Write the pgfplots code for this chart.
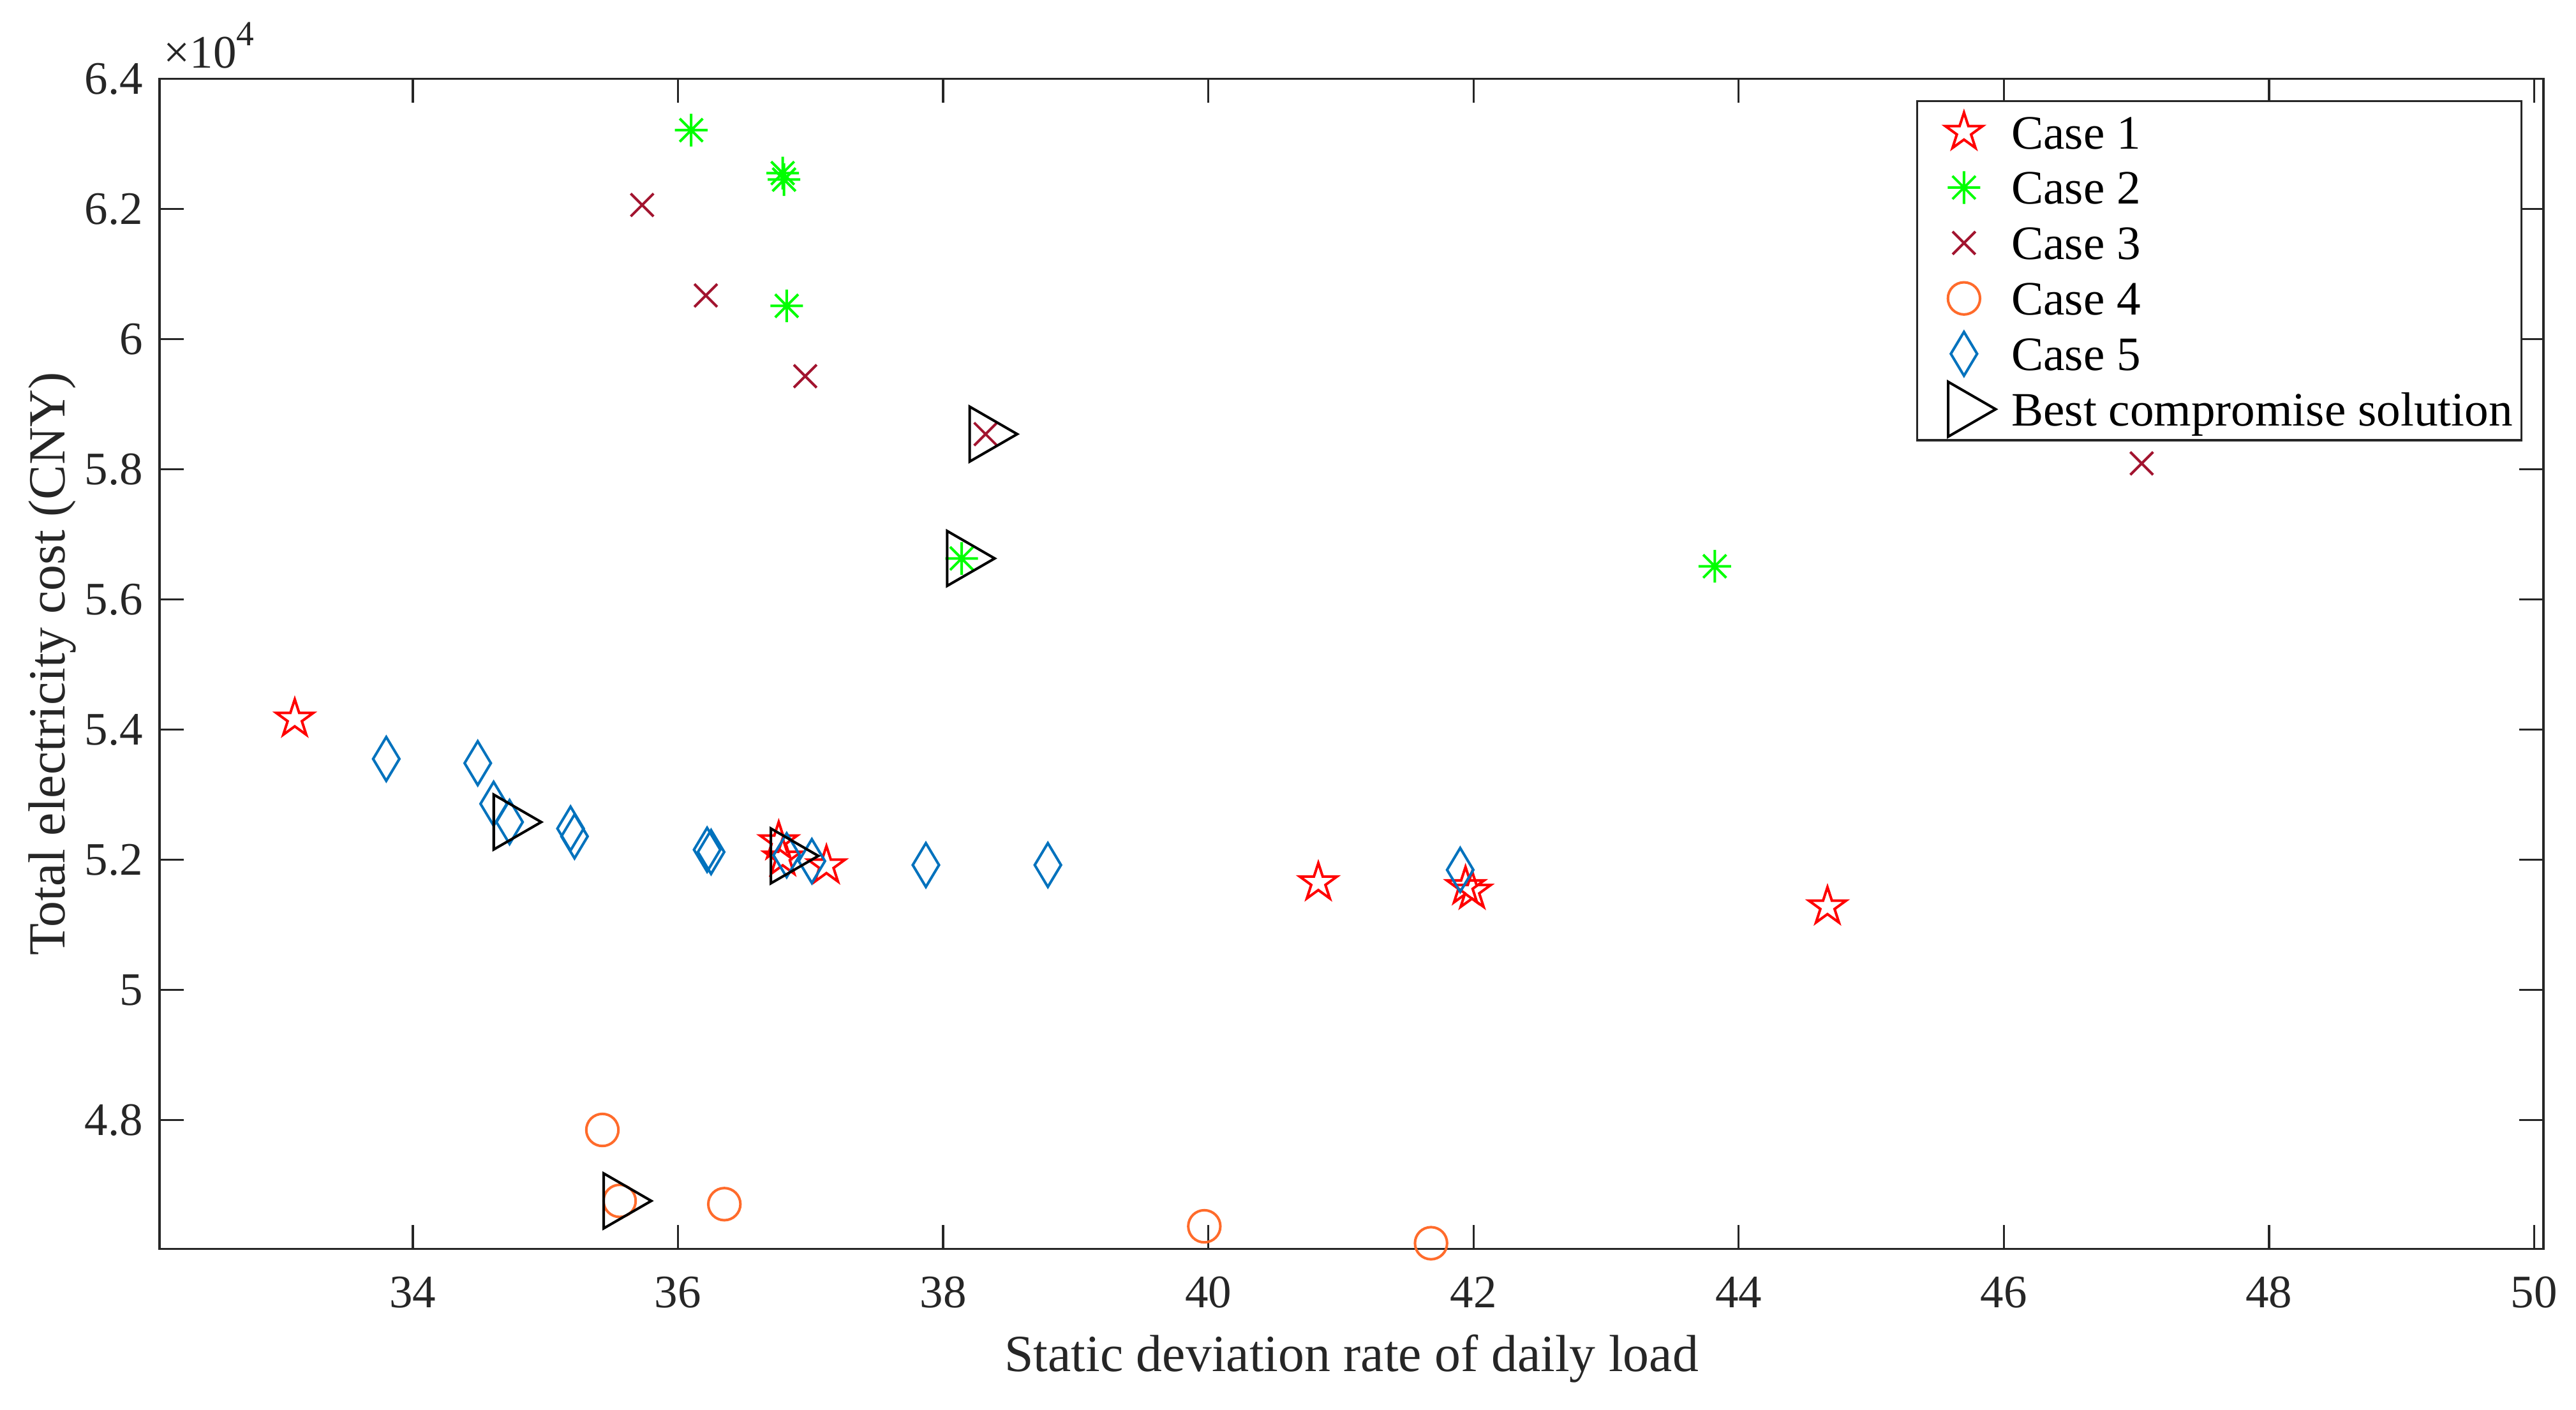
\documentclass[border=0pt]{standalone}
\usepackage{fontspec}
\setmainfont{Liberation Serif}
\usepackage{pgfplots}
\pgfplotsset{compat=1.18}

\definecolor{cA}{rgb}{1,0,0}
\definecolor{cB}{rgb}{0,1,0}
\definecolor{cC}{rgb}{0.635,0.078,0.184}
\definecolor{cD}{RGB}{255,107,43}
\definecolor{cE}{rgb}{0,0.447,0.741}
\definecolor{axc}{gray}{0.15}

\pgfdeclareplotmark{mpent}{%
  \pgfpathmoveto{\pgfpointpolar{90}{\pgfplotmarksize}}%
  \pgfpathlineto{\pgfpointpolar{126}{0.382\pgfplotmarksize}}%
  \pgfpathlineto{\pgfpointpolar{162}{\pgfplotmarksize}}%
  \pgfpathlineto{\pgfpointpolar{198}{0.382\pgfplotmarksize}}%
  \pgfpathlineto{\pgfpointpolar{234}{\pgfplotmarksize}}%
  \pgfpathlineto{\pgfpointpolar{270}{0.382\pgfplotmarksize}}%
  \pgfpathlineto{\pgfpointpolar{306}{\pgfplotmarksize}}%
  \pgfpathlineto{\pgfpointpolar{342}{0.382\pgfplotmarksize}}%
  \pgfpathlineto{\pgfpointpolar{18}{\pgfplotmarksize}}%
  \pgfpathlineto{\pgfpointpolar{54}{0.382\pgfplotmarksize}}%
  \pgfpathclose\pgfusepathqstroke}
\pgfdeclareplotmark{mast}{%
  \pgfpathmoveto{\pgfqpoint{-\pgfplotmarksize}{0pt}}\pgfpathlineto{\pgfqpoint{\pgfplotmarksize}{0pt}}%
  \pgfpathmoveto{\pgfqpoint{0pt}{-\pgfplotmarksize}}\pgfpathlineto{\pgfqpoint{0pt}{\pgfplotmarksize}}%
  \pgfpathmoveto{\pgfpointpolar{45}{\pgfplotmarksize}}\pgfpathlineto{\pgfpointpolar{225}{\pgfplotmarksize}}%
  \pgfpathmoveto{\pgfpointpolar{135}{\pgfplotmarksize}}\pgfpathlineto{\pgfpointpolar{315}{\pgfplotmarksize}}%
  \pgfusepathqstroke}
\pgfdeclareplotmark{mx}{%
  \pgfpathmoveto{\pgfqpoint{-\pgfplotmarksize}{-\pgfplotmarksize}}\pgfpathlineto{\pgfqpoint{\pgfplotmarksize}{\pgfplotmarksize}}%
  \pgfpathmoveto{\pgfqpoint{-\pgfplotmarksize}{\pgfplotmarksize}}\pgfpathlineto{\pgfqpoint{\pgfplotmarksize}{-\pgfplotmarksize}}%
  \pgfusepathqstroke}
\pgfdeclareplotmark{mdia}{%
  \pgfpathmoveto{\pgfqpoint{0pt}{\pgfplotmarksize}}%
  \pgfpathlineto{\pgfqpoint{0.6\pgfplotmarksize}{0pt}}%
  \pgfpathlineto{\pgfqpoint{0pt}{-\pgfplotmarksize}}%
  \pgfpathlineto{\pgfqpoint{-0.6\pgfplotmarksize}{0pt}}%
  \pgfpathclose\pgfusepathqstroke}
\pgfdeclareplotmark{mtri}{%
  \pgfpathmoveto{\pgfpointpolar{0}{\pgfplotmarksize}}%
  \pgfpathlineto{\pgfpointpolar{120}{\pgfplotmarksize}}%
  \pgfpathlineto{\pgfpointpolar{240}{\pgfplotmarksize}}%
  \pgfpathclose\pgfusepathqstroke}

\pgfplotsset{lgimg/.style={legend image code/.code={%
  \pgfpathrectangle{\pgfqpoint{-8.2pt}{-5.95pt}}{\pgfqpoint{13.2pt}{11.9pt}}%
  \pgfusepath{use as bounding box}%
  \draw[##1] plot coordinates {(0pt,0pt)};}}}

\begin{document}
\begin{tikzpicture}
\begin{axis}[name=ax,
  width=511.8pt, height=251.3pt, scale only axis,
  xmin=32.09, xmax=50.07, ymin=46020, ymax=64000,
  xtick={34,36,...,50},
  ytick={48000,50000,52000,54000,56000,58000,60000,62000,64000},
  yticklabels={4.8,5,5.2,5.4,5.6,5.8,6,6.2,6.4},
  scaled y ticks=false,
  clip=false,
  tick align=inside, major tick length=5.2pt,
  axis line style={axc, line width=0.45pt},
  every tick/.style={axc, line width=0.45pt},
  tick label style={font=\fontsize{10}{12}\selectfont, text=axc},
  xticklabel style={yshift=-2.4pt},
  /pgf/number format/assume math mode=true,
  xlabel={Static deviation rate of daily load},
  ylabel={Total electricity cost (CNY)},
  label style={font=\fontsize{11.2}{13}\selectfont, text=axc},
  xlabel style={at={(axis description cs:0.5,-0.1047)}, anchor=base},
  ylabel style={at={(axis description cs:-0.03976,0.5)}, anchor=base},
  legend cell align=left,
  legend style={at={(axis description cs:0.9912,0.9817)}, anchor=north east,
    draw=axc, line width=0.45pt, inner xsep=1.9pt, inner ysep=0.7pt,
    /tikz/column sep=5.2pt, /tikz/row sep=0pt,
    font=\fontsize{10.3}{12}\selectfont,
    nodes={inner sep=0pt, text height=9.5pt, text depth=2.4pt}},
]
\addplot[only marks, mark=mpent, mark size=4.2pt, color=cA, line width=0.55pt, lgimg] coordinates {
(33.11,54165) (36.76,52280) (36.79,52030) (37.12,51910)
(40.83,51650) (41.94,51590) (41.99,51520) (44.67,51280)};
\addlegendentry{Case 1}
\addplot[only marks, mark=mast, mark size=3.5pt, color=cB, line width=0.55pt, lgimg] coordinates {
(36.10,63210) (36.79,62550) (36.80,62450) (36.82,60510) (38.14,56630) (43.82,56510)};
\addlegendentry{Case 2}
\addplot[only marks, mark=mx, mark size=2.45pt, color=cC, line width=0.55pt, lgimg] coordinates {
(35.73,62060) (36.21,60670) (36.96,59430) (38.32,58540) (47.04,58090)};
\addlegendentry{Case 3}
\addplot[only marks, mark=o, mark size=3.45pt, color=cD, line width=0.55pt, lgimg] coordinates {
(35.43,47850) (35.56,46760) (36.35,46710) (39.97,46370) (41.68,46110)};
\addlegendentry{Case 4}
\addplot[only marks, mark=mdia, mark size=4.7pt, color=cE, line width=0.55pt, lgimg] coordinates {
(33.80,53550) (34.49,53485) (34.61,52860) (34.73,52580) (35.19,52480) (35.22,52360)
(36.22,52155) (36.25,52120) (36.82,52070) (37.01,51980) (37.87,51920) (38.79,51920) (41.90,51845)};
\addlegendentry{Case 5}
\addplot[only marks, mark=mtri, mark size=6.8pt, color=black, line width=0.55pt, lgimg] coordinates {
(38.32,58540) (38.15,56630) (34.73,52580) (36.82,52060) (35.56,46760)};
\addlegendentry{Best compromise solution}
\end{axis}
\node[anchor=base west, inner sep=0pt, font=\fontsize{10}{12}\selectfont, text=axc]
  at ([shift={(0.7pt,2.26pt)}]ax.north west) {×10\raisebox{4.9pt}{\fontsize{7.6}{9}\selectfont 4}};
\pgfresetboundingbox
\path[use as bounding box] ([shift={(-34.25pt,-34.5pt)}]ax.south west) rectangle ([shift={(7pt,16.9pt)}]ax.north east);
\end{tikzpicture}
\end{document}
